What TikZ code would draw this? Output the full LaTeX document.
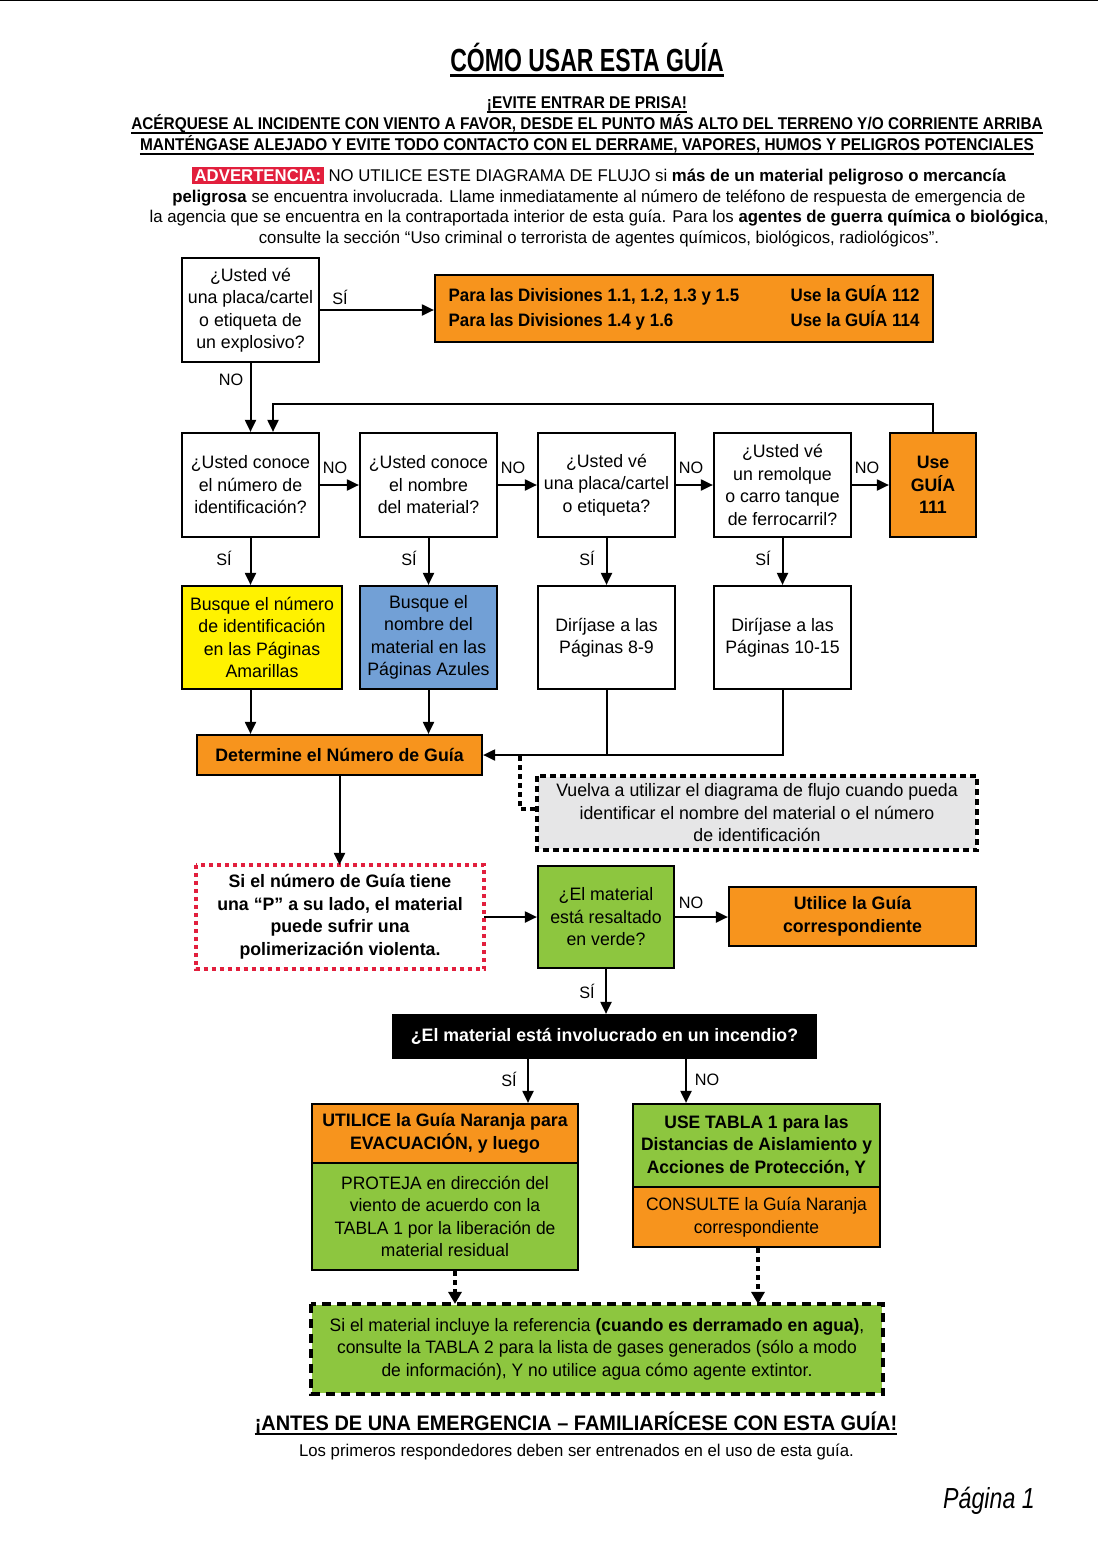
\documentclass[tikz,border=0pt]{standalone}
\usepackage{fontspec}
\setmainfont[FakeStretch=0.985]{Liberation Sans}
\newfontfamily\narrowf[FakeStretch=0.905]{Liberation Sans}
\newfontfamily\divf[FakeStretch=0.94]{Liberation Sans}
\newfontfamily\footf[FakeStretch=0.95]{Liberation Sans}
\newfontfamily\pagef[FakeStretch=0.80]{Liberation Sans}
\newfontfamily\titlef[FakeStretch=0.72]{Liberation Sans}
\newfontfamily\widef[FakeStretch=0.97]{Liberation Sans}
\usetikzlibrary{arrows.meta}
\definecolor{gorange}{HTML}{F7941D}
\definecolor{gyellow}{HTML}{FFF200}
\definecolor{gblue}{HTML}{72A0D6}
\definecolor{ggreen}{HTML}{8DC63F}
\definecolor{gred}{HTML}{E21F3D}
\definecolor{ggray}{HTML}{E6E6E7}
\newcommand\bodyfont{\fontsize{18}{22.5}\selectfont}
\newcommand\lblfont{\fontsize{16.5}{18}\selectfont}
\tikzset{
  bx/.style={draw, line width=2.2pt, align=center, inner sep=0pt, font=\bodyfont},
  lbl/.style={inner sep=0pt, font=\lblfont},
  txt/.style={inner sep=0pt, align=center},
  arr/.style={line width=2pt, -{Triangle[length=12pt,width=11pt]}},
  ln/.style={line width=2pt},
  dotln/.style={line width=3.5pt, dash pattern=on 5pt off 4pt},
  dotarr/.style={line width=4pt, dash pattern=on 5pt off 4pt, -{Triangle[length=12pt,width=13pt]}},
  uline/.style={line width=2pt},
}
\begin{document}
\begin{tikzpicture}[x=1pt,y=-1pt]
\useasboundingbox (0,0) rectangle (1098,1541);
\draw[line width=1.5pt] (0,0.75) coordinate (tl) -- (1098,0.75) coordinate (tr);

% ---------- headers ----------
\node[txt, anchor=base, font=\titlef\bfseries\fontsize{32}{36}\selectfont] (title) at (587,72) {CÓMO USAR ESTA GUÍA};
\draw[uline, line width=2.5pt] ([yshift=-3.5pt]title.base west) -- ([yshift=-3.5pt]title.base east);
\node[txt, anchor=base, font=\narrowf\bfseries\fontsize{17}{20}\selectfont] (h1) at (587,109) {¡EVITE ENTRAR DE PRISA!};
\draw[uline, line width=1.5pt] ([yshift=-3pt]h1.base west) -- ([yshift=-3pt]h1.base east);
\node[txt, anchor=base, font=\narrowf\bfseries\fontsize{17}{20}\selectfont] (h2) at (587,130) {ACÉRQUESE AL INCIDENTE CON VIENTO A FAVOR, DESDE EL PUNTO MÁS ALTO DEL TERRENO Y/O CORRIENTE ARRIBA};
\draw[uline, line width=1.5pt] ([yshift=-3pt]h2.base west) -- ([yshift=-3pt]h2.base east);
\node[txt, anchor=base, font=\narrowf\bfseries\fontsize{17}{20}\selectfont] (h3) at (587,151) {MANTÉNGASE ALEJADO Y EVITE TODO CONTACTO CON EL DERRAME, VAPORES, HUMOS Y PELIGROS POTENCIALES};
\draw[uline, line width=1.5pt] ([yshift=-3pt]h3.base west) -- ([yshift=-3pt]h3.base east);

\node[txt, font=\fontsize{17}{20.7}\selectfont] (warn) at (599,207) {%
\setlength\fboxsep{2.8pt}\colorbox{gred}{\color{white}\bfseries ADVERTENCIA:} NO UTILICE ESTE DIAGRAMA DE FLUJO si \textbf{más de un material peligroso o mercancía}\\
\textbf{peligrosa} se encuentra involucrada. Llame inmediatamente al número de teléfono de respuesta de emergencia de\\
la agencia que se encuentra en la contraportada interior de esta guía. Para los \textbf{agentes de guerra química o biológica},\\
consulte la sección “Uso criminal o terrorista de agentes químicos, biológicos, radiológicos”.};

% ---------- top row ----------
\node[bx, minimum width=137, minimum height=104] (q1) at (250.5,310) {¿Usted vé\\una placa/cartel\\o etiqueta de\\un explosivo?};
\node[bx, fill=gorange, minimum width=498, minimum height=67, font=\divf\bodyfont\bfseries] (div) at (684,308.5) {%
\fontsize{18}{25}\selectfont\begin{tabular}{@{}p{342pt}@{}l@{}}
Para las Divisiones 1.1, 1.2, 1.3 y 1.5 & Use la GUÍA 112\\
Para las Divisiones 1.4 y 1.6 & Use la GUÍA 114
\end{tabular}};

% ---------- row 1 ----------
\node[bx, minimum width=137, minimum height=104] (b1) at (250.5,485) {¿Usted conoce\\el número de\\identificación?};
\node[bx, minimum width=137, minimum height=104] (b2) at (428.5,485) {¿Usted conoce\\el nombre\\del material?};
\node[bx, minimum width=137, minimum height=104] (b3) at (606.5,485) {¿Usted vé\\una placa/cartel\\o etiqueta?};
\node[bx, minimum width=137, minimum height=104] (b4) at (782.5,485) {¿Usted vé\\un remolque\\o carro tanque\\de ferrocarril?};
\node[bx, fill=gorange, minimum width=86, minimum height=104, font=\bodyfont\bfseries] (b5) at (933,485) {Use\\GUÍA\\111};

% ---------- row 2 ----------
\node[bx, fill=gyellow, minimum width=160, minimum height=103] (y1) at (262,637.5) {Busque el número\\de identificación\\en las Páginas\\Amarillas};
\node[bx, fill=gblue, minimum width=137, minimum height=103] (y2) at (428.5,637.5) {Busque el\\nombre del\\material en las\\Páginas Azules};
\node[bx, minimum width=137, minimum height=103] (w3) at (606.5,637.5) {Diríjase a las\\Páginas 8-9};
\node[bx, minimum width=137, minimum height=103] (w4) at (782.5,637.5) {Diríjase a las\\Páginas 10-15};

\node[bx, fill=gorange, minimum width=285, minimum height=40, font=\bodyfont\bfseries] (det) at (339.5,755) {Determine el Número de Guía};
\node[bx, fill=ggray, draw=none, minimum width=438, minimum height=72] (gray) at (757,813) {Vuelva a utilizar el diagrama de flujo cuando pueda\\identificar el nombre del material o el número\\de identificación};
\draw[line width=3.5pt, dash pattern=on 6pt off 4pt] (gray.north west) rectangle (gray.south east);

% ---------- middle ----------
\node[bx, draw=none, minimum width=286, minimum height=102, font=\bodyfont\bfseries] (pbox) at (340,917) {Si el número de Guía tiene\\una “P” a su lado, el material\\puede sufrir una\\polimerización violenta.};
\draw[gred, line width=4pt, dash pattern=on 4pt off 4pt] (pbox.north west) rectangle (pbox.south east);
\node[bx, fill=ggreen, minimum width=136, minimum height=102] (gq) at (606,917) {¿El material\\está resaltado\\en verde?};
\node[bx, fill=gorange, minimum width=247, minimum height=59, font=\bodyfont\bfseries] (useg) at (852.5,916.5) {Utilice la Guía\\correspondiente};
\node[bx, fill=black, text=white, minimum width=423, minimum height=43, font=\bodyfont\bfseries] (fire) at (604.5,1036.5) {¿El material está involucrado en un incendio?};

% ---------- bottom ----------
\node[bx, fill=gorange, minimum width=266, minimum height=59, font=\bodyfont\bfseries] (evT) at (445,1133.5) {UTILICE la Guía Naranja para\\EVACUACIÓN, y luego};
\node[bx, fill=ggreen, minimum width=266, minimum height=107, font=\widef\bodyfont] (evB) at (445,1216.5) {PROTEJA en dirección del\\viento de acuerdo con la\\TABLA 1 por la liberación de\\material residual};
\node[bx, fill=ggreen, minimum width=247, minimum height=83, font=\widef\bodyfont\bfseries] (tbT) at (756.5,1145.5) {USE TABLA 1 para las\\Distancias de Aislamiento y\\Acciones de Protección, Y};
\node[bx, fill=gorange, minimum width=247, minimum height=60, font=\widef\bodyfont] (tbB) at (756.5,1217) {CONSULTE la Guía Naranja\\correspondiente};
\node[bx, fill=ggreen, draw=none, minimum width=570, minimum height=88, font=\widef\bodyfont] (wat) at (597,1349) {Si el material incluye la referencia \textbf{(cuando es derramado en agua)},\\consulte la TABLA 2 para la lista de gases generados (sólo a modo\\de información), Y no utilice agua cómo agente extintor.};
\draw[line width=4pt, dash pattern=on 9pt off 6pt] (wat.north west) rectangle (wat.south east);

% ---------- footer ----------
\node[txt, anchor=base, font=\footf\bfseries\fontsize{21}{24}\selectfont] (foot1) at (576,1430) {¡ANTES DE UNA EMERGENCIA – FAMILIARÍCESE CON ESTA GUÍA!};
\draw[uline, line width=2pt] ([yshift=-3.5pt]foot1.base west) -- ([yshift=-3.5pt]foot1.base east);
\node[txt, anchor=base, font=\fontsize{17}{20}\selectfont] (foot2) at (576.5,1456) {Los primeros respondedores deben ser entrenados en el uso de esta guía.};
\node[txt, anchor=base east, font=\pagef\itshape\fontsize{29}{32}\selectfont] (page) at (1035,1508) {Página 1};

% ---------- connectors ----------
\draw[arr] (q1.east) -- (q1.east -| div.west);
\node[lbl] (l1) at (340,297) {SÍ};
\draw[arr] (q1.south) -- (q1.south |- b1.north);
\node[lbl] (l2) at (231,380) {NO};
\coordinate (loopy) at (0,404);
\draw[arr] (b5.north) -- (b5.north |- loopy) -| ([xshift=22.5pt]b1.north);

\draw[arr] (b1.east) -- (b2.west);
\draw[arr] (b2.east) -- (b3.west);
\draw[arr] (b3.east) -- (b4.west);
\draw[arr] (b4.east) -- (b5.west);
\node[lbl] (n1) at (335,468) {NO};
\node[lbl] (n2) at (513,468) {NO};
\node[lbl] (n3) at (691,468) {NO};
\node[lbl] (n4) at (867,468) {NO};

\draw[arr] (b1.south) -- (b1.south |- y1.north);
\draw[arr] (b2.south) -- (y2.north);
\draw[arr] (b3.south) -- (w3.north);
\draw[arr] (b4.south) -- (w4.north);
\node[lbl] (s1) at (224,558) {SÍ};
\node[lbl] (s2) at (409,558) {SÍ};
\node[lbl] (s3) at (587,558) {SÍ};
\node[lbl] (s4) at (763,558) {SÍ};

\draw[arr] (b1.south |- y1.south) -- (b1.south |- det.north);
\draw[arr] (y2.south) -- (y2.south |- det.north);
\draw[ln] (w3.south) -- (w3.south |- det.east);
\draw[arr] (w4.south) |- (det.east);
\coordinate (dstart) at (520,756);
\draw[dotln] (dstart) |- ([yshift=4pt]gray.west);

\draw[arr] (det.south) -- (det.south |- pbox.north);
\draw[arr] (pbox.east) -- (pbox.east -| gq.west);
\draw[arr] (gq.east) -- (gq.east -| useg.west);
\node[lbl] (n5) at (691,903) {NO};
\draw[arr] (gq.south) -- (gq.south |- fire.north);
\node[lbl] (s5) at (587,991) {SÍ};

\draw[arr] ([xshift=-76.5pt]fire.south) -- ([xshift=-76.5pt]fire.south |- evT.north);
\node[lbl] (s6) at (509,1079) {SÍ};
\draw[arr] ([xshift=81.5pt]fire.south) -- ([xshift=81.5pt]fire.south |- tbT.north);
\node[lbl] (n6) at (707,1080) {NO};

\draw[dotarr] ([xshift=10pt]evB.south) -- ([xshift=10pt]evB.south |- wat.north);
\draw[dotarr] ([xshift=1.5pt]tbB.south) -- ([xshift=1.5pt]tbB.south |- wat.north);
\end{tikzpicture}
\end{document}
